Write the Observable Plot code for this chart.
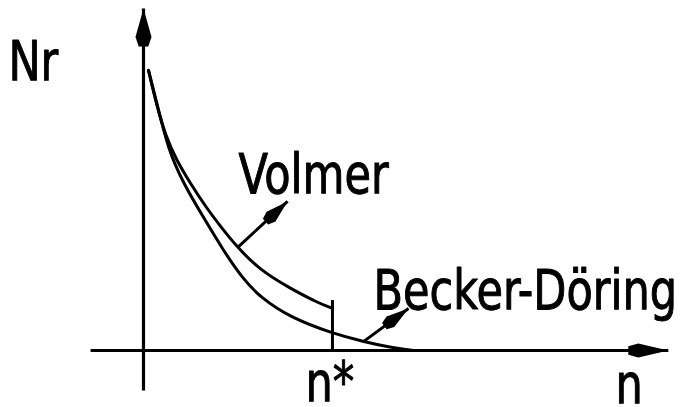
<!DOCTYPE html>
<html>
<head>
<meta charset="utf-8">
<script src="https://cdn.jsdelivr.net/npm/d3@7"></script>
<script src="https://cdn.jsdelivr.net/npm/@observablehq/plot@0.6"></script>
<style>
  html, body { margin: 0; padding: 0; background: #fff; }
</style>
</head>
<body>
<div id="chart"></div>
<script>
// Volmer distribution (ends at the critical size n*)
const volmerN  = [0.106, 0.275, 0.466, 0.698, 0.995, 1.312, 1.630, 1.989, 2.476, 3.111, 3.683, 4.0];
const volmerNr = [8.19, 7.19, 6.29, 5.56, 4.88, 4.21, 3.63, 3.01, 2.34, 1.81, 1.40, 1.23];
// Becker-Döring distribution (continues past n*)
const bdN  = [0.106, 0.296, 0.529, 0.847, 1.270, 1.693, 2.095, 2.476, 3.111, 4.0, 4.656, 5.228, 5.714];
const bdNr = [8.19, 7.16, 5.85, 4.88, 3.89, 2.92, 2.11, 1.55, 0.96, 0.50, 0.26, 0.09, 0.0];
// critical size
const nStar = 4.0;
const nStarTop = 1.46;
// axes extent
const xAxisFrom = -1.12, xAxisTo = 11.11;
const yAxisFrom = -1.17, yAxisTo = 10;
// label annotations
const labels = ["Volmer", "Becker-Döring"];
const labelN  = [2.01, 4.87];
const labelNr = [5.12, 1.75];
const pointerFromN  = [1.989, 4.656];
const pointerFromNr = [3.01, 0.26];
const pointerToN    = [3.05, 5.61];
const pointerToNr   = [4.36, 1.23];
const axisLabels = ["Nr", "n*", "n"];
const axisLabelN  = [-2.86, 3.43, 9.99];
const axisLabelNr = [8.42, -0.94, -1.0];

const W = 686, H = 407;
const mL = 143, mR = 21, mT = 8, mB = 57;
const xDomain = [0, 11.05], yDomain = [0, 10];
const font = "'DejaVu Sans Condensed', 'DejaVu Sans', sans-serif";

const volmer = volmerN.map((n, i) => ({n, Nr: volmerNr[i]}));
const bd = bdN.map((n, i) => ({n, Nr: bdNr[i]}));
const labelRows = labels.map((t, i) => ({t, n: labelN[i], Nr: labelNr[i]}));
const axisLabelRows = axisLabels.map((t, i) => ({t, n: axisLabelN[i], Nr: axisLabelNr[i]}));

// pixel mapping identical to the plot's scales, used only to orient arrowheads
const sx = d3.scaleLinear(xDomain, [mL, W - mR]);
const sy = d3.scaleLinear(yDomain, [H - mB, mT]);
function angle(x1, y1, x2, y2) {
  const dx = sx(x2) - sx(x1), dy = sy(y2) - sy(y1);
  return Math.atan2(dx, -dy) * 180 / Math.PI;
}
const pointers = labels.map((t, i) => ({
  x1: pointerFromN[i], y1: pointerFromNr[i], x2: pointerToN[i], y2: pointerToNr[i],
  rot: angle(pointerFromN[i], pointerFromNr[i], pointerToN[i], pointerToNr[i])
}));
const axes = [
  {x1: xAxisFrom, y1: 0, x2: xAxisTo, y2: 0, rot: angle(xAxisFrom, 0, xAxisTo, 0), kind: "x"},
  {x1: 0, y1: yAxisFrom, x2: 0, y2: yAxisTo, rot: angle(0, yAxisFrom, 0, yAxisTo), kind: "y"}
];

function head(L, Wd) {
  return {draw(ctx) {
    ctx.moveTo(0, 0);
    ctx.lineTo(Wd / 2, L * 0.75);
    ctx.lineTo(Wd * 0.3, L);
    ctx.lineTo(-Wd * 0.3, L);
    ctx.lineTo(-Wd / 2, L * 0.75);
    ctx.closePath();
  }};
}

const chart = Plot.plot({
  width: W,
  height: H,
  marginLeft: mL,
  marginRight: mR,
  marginTop: mT,
  marginBottom: mB,
  x: {domain: xDomain, axis: null},
  y: {domain: yDomain, axis: null},
  style: {background: "#fff", fontFamily: font},
  marks: [
    // axes
    Plot.link(axes, {x1: "x1", y1: "y1", x2: "x2", y2: "y2", stroke: "#000", strokeWidth: 3.2}),
    Plot.dot(axes.filter(d => d.kind === "x"), {x: "x2", y: "y2", rotate: "rot", symbol: head(40, 14), fill: "#000", stroke: "none", r: 5}),
    Plot.dot(axes.filter(d => d.kind === "y"), {x: "x2", y: "y2", rotate: "rot", symbol: head(38, 16), fill: "#000", stroke: "none", r: 5}),
    // curves
    Plot.line(volmer, {x: "n", y: "Nr", curve: "basis", stroke: "#000", strokeWidth: 3}),
    Plot.line(bd, {x: "n", y: "Nr", curve: "basis", stroke: "#000", strokeWidth: 3}),
    // n* marker
    Plot.ruleX([nStar], {y1: 0, y2: nStarTop, stroke: "#000", strokeWidth: 3}),
    // pointers
    Plot.link(pointers, {x1: "x1", y1: "y1", x2: "x2", y2: "y2", stroke: "#000", strokeWidth: 3}),
    Plot.dot(pointers, {x: "x2", y: "y2", rotate: "rot", symbol: head(30, 13), fill: "#000", stroke: "none", r: 5}),
    // labels
    Plot.text(labelRows, {x: "n", y: "Nr", text: "t", textAnchor: "start", lineAnchor: "middle", fontSize: 56, fill: "#000", stroke: "#000", strokeWidth: 1}),
    Plot.text(axisLabelRows, {x: "n", y: "Nr", text: "t", textAnchor: "start", lineAnchor: "middle", fontSize: 56, fill: "#000", stroke: "#000", strokeWidth: 1})
  ]
});

document.getElementById("chart").appendChild(chart);

// narrow the lettering horizontally (technical-drawing style lettering)
chart.querySelectorAll("text").forEach(el => {
  const w = el.getComputedTextLength();
  if (w > 0) {
    el.setAttribute("textLength", (w * 0.855).toFixed(1));
    el.setAttribute("lengthAdjust", "spacingAndGlyphs");
  }
});
</script>
</body>
</html>
